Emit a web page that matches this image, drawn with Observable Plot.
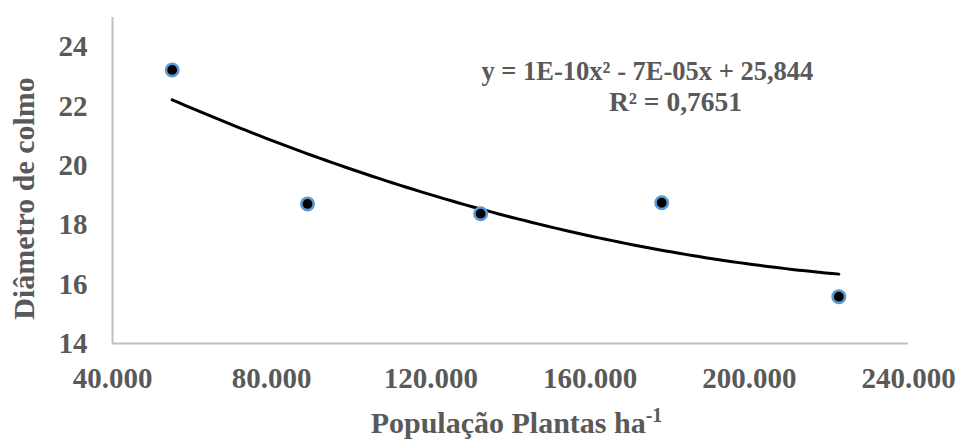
<!DOCTYPE html>
<html><head><meta charset="utf-8">
<script src="https://cdn.jsdelivr.net/npm/d3@7"></script>
<script src="https://cdn.jsdelivr.net/npm/@observablehq/plot@0.6"></script>
<style>
body{margin:0;background:#fff}
</style>
</head><body><div id="chart"></div><script>
// Data
const populacao = [55000, 89000, 132500, 178000, 222500];
const diametro = [23.23, 18.71, 18.38, 18.75, 15.58];
const xTicks = [40000, 80000, 120000, 160000, 200000, 240000];
const yTicks = [14, 16, 18, 20, 22, 24];
const xDomain = [40000, 240000];
const yDomain = [14, 25];
const equationText = "y = 1E-10x² - 7E-05x + 25,844";
const r2Text = "R² = 0,7651";
const xTitle = "População Plantas ha-1";
const yTitle = "Diâmetro de colmo";
const eqPos = {x: 174400, y: 22.89};
const r2Pos = {x: 181450, y: 21.85};

const points = populacao.map((p, i) => ({x: p, y: diametro[i]}));

// Least-squares quadratic (polynomial trend line), x in thousands
function quadFit(xs, ys) {
  const u = xs.map(v => v / 1000);
  const S = k => d3.sum(u, v => v ** k);
  const T = k => d3.sum(u, (v, i) => v ** k * ys[i]);
  const A = [[S(0), S(1), S(2), T(0)], [S(1), S(2), S(3), T(1)], [S(2), S(3), S(4), T(2)]];
  for (let i = 0; i < 3; i++) {
    for (let j = i + 1; j < 3; j++) {
      const f = A[j][i] / A[i][i];
      for (let k = i; k < 4; k++) A[j][k] -= f * A[i][k];
    }
  }
  const c = [0, 0, 0];
  for (let i = 2; i >= 0; i--) {
    let s = A[i][3];
    for (let k = i + 1; k < 3; k++) s -= A[i][k] * c[k];
    c[i] = s / A[i][i];
  }
  return x => c[0] + c[1] * (x / 1000) + c[2] * (x / 1000) ** 2;
}
const fit = quadFit(populacao, diametro);
const x0 = d3.min(populacao), x1 = d3.max(populacao);
const trend = d3.range(0, 101).map(i => {
  const x = x0 + (x1 - x0) * i / 100;
  return {x, y: fit(x)};
});

const fmt = d => d3.format(",")(d).replace(/,/g, ".");
const gray = "#595959";
const font = "'Liberation Serif', 'Times New Roman', serif";

const plot = Plot.plot({
  width: 960,
  height: 442,
  marginLeft: 112,
  marginRight: 52,
  marginTop: 17,
  marginBottom: 99,
  x: {domain: xDomain},
  y: {domain: yDomain},
  marks: [
    Plot.axisX({ticks: xTicks, tickSize: 0, tickPadding: 24, tickFormat: fmt, fontSize: 29, fill: gray, label: null}),
    Plot.axisY({ticks: yTicks, tickSize: 0, tickPadding: 25, fontSize: 29, fill: gray, label: null}),
    Plot.ruleX([xDomain[0]], {stroke: "#bfbfbf", strokeWidth: 2}),
    Plot.ruleY([yDomain[0]], {stroke: "#bfbfbf", strokeWidth: 2}),
    Plot.line(trend, {x: "x", y: "y", stroke: "#000", strokeWidth: 3, curve: "linear"}),
    Plot.dot(points, {x: "x", y: "y", r: 6.2, fill: "#000", stroke: "#5b9bd5", strokeWidth: 2.6}),
    Plot.text([eqPos], {x: "x", y: "y", text: () => equationText, fontSize: 26.5, fill: gray, lineAnchor: "bottom", textAnchor: "middle"}),
    Plot.text([r2Pos], {x: "x", y: "y", text: () => r2Text, fontSize: 27.5, fill: gray, lineAnchor: "bottom", textAnchor: "middle"}),
    Plot.text([{}], {frameAnchor: "bottom", text: () => xTitle, fontSize: 30, fill: gray, lineAnchor: "bottom", textAnchor: "middle", dx: 6, dy: 89}),
    Plot.text([{}], {frameAnchor: "left", text: () => yTitle, fontSize: 30, fill: gray, lineAnchor: "middle", textAnchor: "middle", rotate: -90, dx: -88, dy: 18})
  ]
});

// serif bold font on every text
d3.select(plot).style("font-family", font).style("font-weight", "bold");
d3.select(plot).selectAll("text")
  .attr("font-family", font).attr("font-weight", "bold")
  .style("font-family", font).style("font-weight", "bold");

// superscript "-1" in the x title
d3.select(plot).selectAll("text").filter(function () { return this.textContent === xTitle; }).each(function () {
  const t = d3.select(this);
  t.text(null);
  t.append("tspan").text("População Plantas ha");
  t.append("tspan").attr("font-size", "20").attr("dy", "-11").text("-1");
});

document.getElementById("chart").append(plot);
</script></body></html>
